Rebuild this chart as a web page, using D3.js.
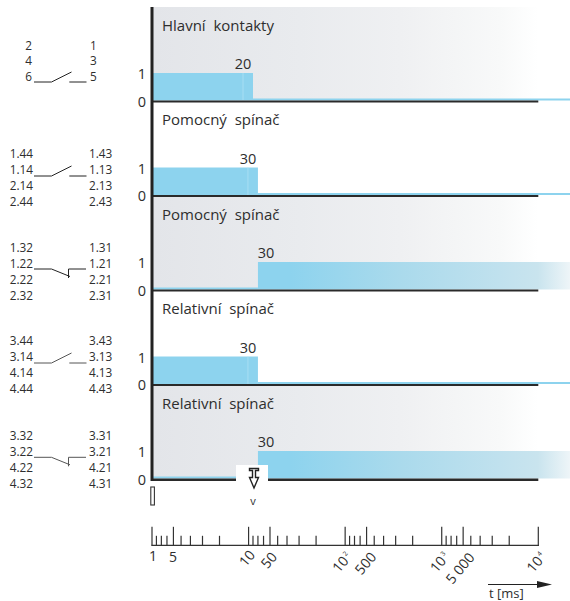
<!DOCTYPE html>
<html><head><meta charset="utf-8">
<script src="https://cdn.jsdelivr.net/npm/d3@7"></script>
<style>html,body{margin:0;padding:0;background:#fff}svg{display:block}text{font-family:"Open Sans",sans-serif;fill:#2e2e2e}</style>
</head><body><svg id="c" width="570" height="601"></svg>
<script>
const titles = ["Hlavní  kontakty","Pomocný  spínač","Pomocný  spínač","Relativní  spínač","Relativní  spínač"];
const initialState = [1,1,0,1,0];
const switchTimes = [20,30,30,30,30];
const shaded = [true,false,true,false,true];
const contactType = ["NO","NO","NC","NO","NC"];
const leftTerminals = [["2","4","6"],["1.44","1.14","2.14","2.44"],["1.32","1.22","2.22","2.32"],["3.44","3.14","4.14","4.44"],["3.32","3.22","4.22","4.32"]];
const rightTerminals = [["1","3","5"],["1.43","1.13","2.13","2.43"],["1.31","1.21","2.21","2.31"],["3.43","3.13","4.13","4.43"],["3.31","3.21","4.21","4.31"]];
const decades = [1,10,100,1000];
const multipliers = [1,2,3,4,5,6,7,8,9];
const axisMax = 10000;
const tickLabels = [
 {v:1,t:"1",dx:1,dy:11,r:0},{v:5,t:"5",dx:-0.5,dy:12,r:0},
 {v:10,t:"10",dx:-1.5,dy:13,r:-50},{v:50,t:"50",dx:-1,dy:15,r:-50},
 {v:100,t:"10",sup:"2",dx:-3,dy:17,r:-50},{v:500,t:"500",dx:-1,dy:18,r:-50},
 {v:1000,t:"10",sup:"3",dx:-2,dy:17,r:-50},{v:5000,t:"5 000",dx:-3,dy:23,r:-50},
 {v:10000,t:"10",sup:"4",dx:-2,dy:17,r:-50}];

const svg = d3.select("#c");
const defs = svg.append("defs");
const pos = v => { const d = Math.floor(Math.log10(v)+1e-9), m = v/Math.pow(10,d); return d + 1 - Math.log10(11-m); };
const xs = d3.scaleLinear().domain([0,4]).range([152,538.3]);
const x = v => xs(pos(v));
const xEnd = 570;
const band = d3.scalePoint().domain(d3.range(5)).range([100.5,478.5]);
const level = d3.scaleLinear().domain([0,1]).range([0,-27.5]);
const lowThick = 2;

function grad(id,stops){
  const g = defs.append("linearGradient").attr("id",id).attr("gradientUnits","userSpaceOnUse")
    .attr("x1",152).attr("x2",570).attr("y1",0).attr("y2",0);
  stops.forEach(s=>g.append("stop").attr("offset",(s[0]-152)/418).attr("stop-color",s[1]));
}
grad("gBg",[[152,"#e3e5e9"],[300,"#e9ebee"],[400,"#eff0f2"],[500,"#f8f9f9"],[538,"#ffffff"],[570,"#ffffff"]]);
grad("gBar",[[152,"#8dd3ee"],[290,"#8dd3ee"],[400,"#aadaec"],[500,"#c0e1ee"],[538,"#c9e4ee"],[570,"#eef5f8"]]);

d3.range(5).forEach(i=>{
  const b = band(i), g = svg.append("g");
  const top = i===0 ? 7 : band(i-1)+2;
  if(shaded[i]) g.append("rect").attr("x",xs(0)).attr("y",top).attr("width",xEnd-xs(0)).attr("height",b-top).attr("fill","url(#gBg)");
  const sx = x(switchTimes[i]);
  if(initialState[i]===1){
    g.append("rect").attr("x",xs(0)).attr("y",b+level(1)).attr("width",sx-xs(0)).attr("height",-level(1)).attr("fill","#8dd3ee");
    g.append("line").attr("x1",sx-10).attr("x2",sx-10).attr("y1",b+level(1)).attr("y2",b).attr("stroke","#b5e2f3").attr("stroke-width",0.7);
    g.append("rect").attr("x",sx).attr("y",b-lowThick).attr("width",xEnd-sx).attr("height",lowThick).attr("fill","#8dd3ee");
  } else {
    g.append("rect").attr("x",xs(0)).attr("y",b-lowThick).attr("width",sx-xs(0)).attr("height",lowThick).attr("fill","#8dd3ee");
    g.append("rect").attr("x",sx).attr("y",b+level(1)).attr("width",xEnd-sx).attr("height",-level(1)).attr("fill","url(#gBar)");
  }
  g.append("rect").attr("x",xs(0)).attr("y",b).attr("width",xs(4)-xs(0)).attr("height",i===4?2.5:2).attr("fill","#2a2a2a");
  g.append("text").attr("x",162).attr("y",b-70).attr("font-size",15).style("white-space","pre").text(titles[i]);
  [1,0].forEach(l=>g.append("text").attr("x",142).attr("y",b+level(l)+6).attr("font-size",14.5).attr("text-anchor","middle").text(l));
  const lx = initialState[i]===1 ? sx-10 : sx+8;
  g.append("text").attr("x",lx).attr("y",b+level(1)-4).attr("font-size",14.5).attr("text-anchor","middle").text(switchTimes[i]);
});
svg.append("rect").attr("x",150.5).attr("y",7).attr("width",3).attr("height",474).attr("fill","#222");

const rowOffsets = [-51,-37.5,-38,-39.5,-39];
const rowPitch = [15.5,16.2,16.2,16.2,16.2];
const symY = [82,176,269,363,457.3];
const line = d3.line();
const termSize = 11.8;
d3.range(5).forEach(i=>{
  const g = svg.append("g");
  const rowY = j => band(i)+rowOffsets[i]+j*rowPitch[i];
  const leftEnd = i===0 ? 32 : 33, rightStart = i===0 ? 90 : 89;
  leftTerminals[i].forEach((t,j)=>g.append("text").attr("x",leftEnd).attr("y",rowY(j)).attr("text-anchor","end").attr("font-size",termSize).text(t));
  rightTerminals[i].forEach((t,j)=>g.append("text").attr("x",rightStart).attr("y",rowY(j)).attr("font-size",termSize).text(t));
  const y = symY[i];
  const st = {fill:"none",stroke:i>=3?"#555":"#222","stroke-width":1};
  const path = pts => { const p = g.append("path").attr("d",line(pts)); Object.entries(st).forEach(([k,v])=>p.attr(k,v)); };
  if(contactType[i]==="NO"){
    path([[34,y],[51.5,y],[71.5,y-10]]);
    path([[69.3,y],[86.5,y]]);
  } else {
    path([[34,y],[51.5,y],[70,y+7.5]]);
    path([[86,y],[68.5,y],[68.5,y+9]]);
  }
});

svg.append("rect").attr("x",236).attr("y",465).attr("width",32).attr("height",20).attr("fill","#fff");
const mk = svg.append("g").attr("fill","none").attr("stroke","#222").attr("stroke-width",1.4);
mk.append("path").attr("d",line([[249.5,468.5],[258.5,468.5],[258.5,470.5],[255.5,470.5],[255.5,477.5],[258.5,477.5],[254,488],[249.5,477.5],[252.5,477.5],[252.5,470.5],[249.5,470.5]])+"Z");
svg.append("text").attr("x",253).attr("y",505).attr("font-size",11).attr("text-anchor","middle").text("v");
svg.append("rect").attr("x",150.8).attr("y",487).attr("width",3.6).attr("height",18).attr("fill","#fff").attr("stroke","#333").attr("stroke-width",1.1);

const axisY = 545.3;
const ax = svg.append("g");
ax.append("line").attr("x1",xs(0)-0.7).attr("x2",xs(4)+0.7).attr("y1",axisY).attr("y2",axisY).attr("stroke","#333").attr("stroke-width",1.3);
const ticks = decades.flatMap(d=>multipliers.map(m=>({v:d*m,tall:m===1||m===5}))).concat([{v:axisMax,tall:true}]);
ax.selectAll("line.t").data(ticks).join("line").attr("class","t")
  .attr("x1",d=>x(d.v)).attr("x2",d=>x(d.v)).attr("y1",axisY).attr("y2",d=>axisY-(d.tall?18.5:9.5))
  .attr("stroke","#333").attr("stroke-width",1.2);
tickLabels.forEach(d=>{
  const t = ax.append("text").attr("font-size",14).attr("text-anchor","middle")
    .attr("transform",`translate(${x(d.v)+d.dx},${axisY+d.dy}) rotate(${d.r})`).attr("dy","0.35em").text(d.t);
  if(d.sup) t.append("tspan").attr("font-size",6.5).attr("dy","-0.9em").attr("dx","1.5").text(d.sup);
});

svg.append("line").attr("x1",488).attr("x2",540).attr("y1",584.5).attr("y2",584.5).attr("stroke","#222").attr("stroke-width",1);
svg.append("path").attr("d",line([[537,581],[552,584.5],[537,588]])+"Z").attr("fill","#222");
svg.append("text").attr("x",489).attr("y",597.5).attr("font-size",13).text("t [ms]");
</script></body></html>
